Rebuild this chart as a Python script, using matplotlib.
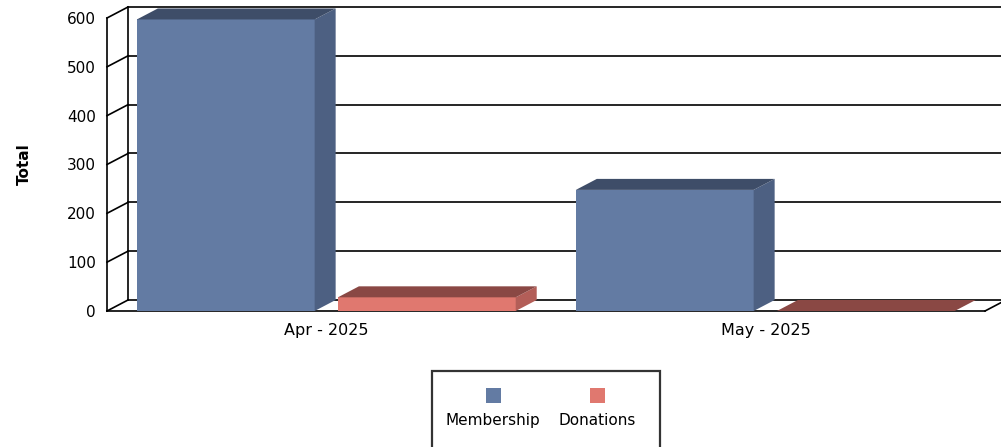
import matplotlib.pyplot as plt
from matplotlib.patches import Polygon, Rectangle

# data
categories = ["Apr - 2025", "May - 2025"]
series_names = ["Membership", "Donations"]
membership = [597, 248]
donations = [28, 0]
yticks = [0, 100, 200, 300, 400, 500, 600]

front_c = ["#637ba3", "#e0786f"]
top_c = ["#3e4d68", "#8a4844"]
side_c = ["#4d6082", "#b35e58"]

plt.rcParams['font.family'] = ['DejaVu Sans']

fig = plt.figure(figsize=(10.01, 4.47), dpi=100)
W, H = 1001, 447
# front plane of the plot, in pixels
x0, x1, ytop, ybot = 107, 985, 18, 311
ax = fig.add_axes([x0 / W, (H - ybot) / H, (x1 - x0) / W, (ybot - ytop) / H])
ax.set_xlim(0, 2)
ax.set_ylim(0, 600)
for s in ax.spines.values():
    s.set_visible(False)

# depth offset (pixels -> data)
dx = 21 / ((x1 - x0) / 2)
dy = 11 / ((ybot - ytop) / 600)

lw = 1.2
# back wall gridlines + left side wall
for v in yticks:
    ax.plot([dx, 2 + dx + 0.05], [v + dy, v + dy], color="black", lw=lw, zorder=1, clip_on=False)
    ax.plot([0, dx], [v, v + dy], color="black", lw=lw, zorder=1, clip_on=False)
ax.plot([dx, dx], [dy, 600 + dy], color="black", lw=lw, zorder=1, clip_on=False)
ax.plot([0, 0], [0, 600], color="black", lw=lw, zorder=1, clip_on=False)
# floor
ax.plot([0, 2], [0, 0], color="black", lw=lw, zorder=1, clip_on=False)
ax.plot([2, 2 + dx], [0, dy], color="black", lw=lw, zorder=1, clip_on=False)

bw = 0.405
values = [membership, donations]
for i in range(len(categories)):
    for j, vals in enumerate(values):
        v = vals[i]
        left = i + 0.068 + j * 0.458
        right = left + bw
        z = 3 + i * 2 + j
        if v > 0:
            ax.add_patch(Rectangle((left, 0), bw, v, facecolor=front_c[j], edgecolor="none",
                                   zorder=z, clip_on=False))
            ax.add_patch(Polygon([(right, 0), (right + dx, dy), (right + dx, v + dy), (right, v)],
                                 facecolor=side_c[j], edgecolor="none", zorder=z, clip_on=False))
        ax.add_patch(Polygon([(left, v), (left + dx, v + dy), (right + dx, v + dy), (right, v)],
                             facecolor=top_c[j], edgecolor="none", zorder=z, clip_on=False))

ax.set_yticks(yticks)
ax.set_yticklabels([str(t) for t in yticks], fontsize=11)
ax.set_xticks([i + 0.5 for i in range(len(categories))])
ax.set_xticklabels(categories, fontsize=11.5)
ax.tick_params(length=0, pad=8)
ax.tick_params(axis="x", pad=9)
ax.set_ylabel("Total", fontsize=11, fontweight="bold")
ax.yaxis.set_label_coords((32 - x0) / (x1 - x0), 0.5)

# legend box
lx, ly, lwid, lh = 432, 371, 228, 80
fig.patches.append(Rectangle((lx / W, (H - ly - lh) / H), lwid / W, lh / H, transform=fig.transFigure,
                             facecolor="white", edgecolor="#333333", lw=1.6, figure=fig))
for name, c, cx in zip(series_names, front_c, [493, 597]):
    fig.patches.append(Rectangle(((cx - 7.5) / W, (H - 403) / H), 15 / W, 15 / H, transform=fig.transFigure,
                                 facecolor=c, edgecolor="none", figure=fig))
    fig.text(cx / W, (H - 425) / H, name, ha="center", va="baseline", fontsize=11)

fig.savefig("out.png", dpi=100)
